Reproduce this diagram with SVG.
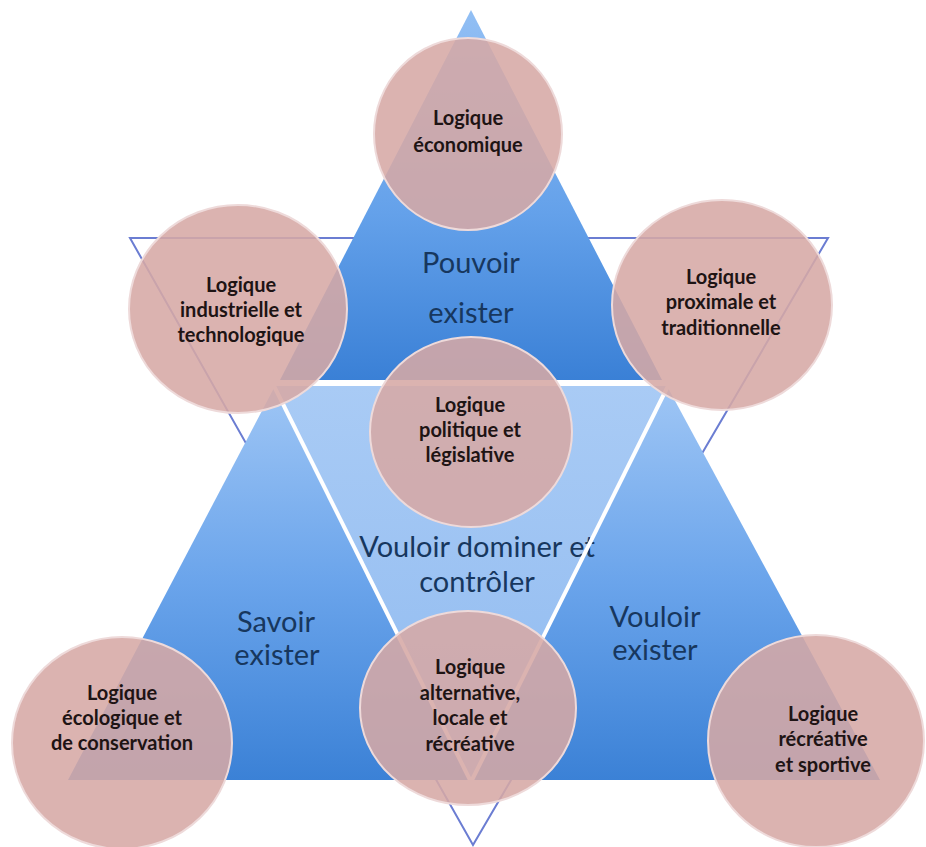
<svg xmlns="http://www.w3.org/2000/svg" width="926" height="847" viewBox="0 0 926 847">
<defs>
<linearGradient id="gTop" gradientUnits="userSpaceOnUse" x1="0" y1="10" x2="0" y2="380">
<stop offset="0" stop-color="#92bff4"/><stop offset="0.55" stop-color="#64a1ea"/><stop offset="1" stop-color="#3a80d6"/>
</linearGradient>
<linearGradient id="gSide" gradientUnits="userSpaceOnUse" x1="0" y1="386" x2="0" y2="780">
<stop offset="0" stop-color="#9fc6f5"/><stop offset="0.5" stop-color="#6aa4eb"/><stop offset="1" stop-color="#3b81d6"/>
</linearGradient>
<linearGradient id="gMid" gradientUnits="userSpaceOnUse" x1="0" y1="386" x2="0" y2="780">
<stop offset="0" stop-color="#a9cbf5"/><stop offset="1" stop-color="#8fbaf0"/>
</linearGradient>
<style>
.circ{fill:#d6a9a5;fill-opacity:0.88;stroke:#eedada;stroke-width:2}
.ct{font-family:Lato,"Liberation Sans",sans-serif;font-weight:bold;font-size:20px;fill:#1e1414;text-anchor:middle}
.big{font-family:Lato,"Liberation Sans",sans-serif;font-size:29px;fill:#17375e;text-anchor:middle}
.sep{stroke:#ffffff;fill:none}
</style>
</defs>
<rect width="926" height="847" fill="#ffffff"/>
<g id="outline-triangle">
<polygon points="130,238 828,238 473,845" fill="none" stroke="#6b7dd2" stroke-width="2"/>
</g>
<g id="pouvoir-exister">
<polygon points="471,10 280,380 662,380" fill="url(#gTop)"/>
<text class="big" x="471" y="273">Pouvoir</text>
<text class="big" x="471" y="323">exister</text>
</g>
<g id="savoir-exister">
<polygon points="275,386 68,780 471,780" fill="url(#gSide)"/>
<text class="big" x="276" y="632">Savoir</text>
<text class="big" x="277" y="665">exister</text>
</g>
<g id="vouloir-exister">
<polygon points="667,386 471,780 880,780" fill="url(#gSide)"/>
<text class="big" x="655" y="627">Vouloir</text>
<text class="big" x="655" y="660">exister</text>
</g>
<g id="vouloir-dominer">
<polygon points="275,386 667,386 471,780" fill="url(#gMid)"/>
<text class="big" x="477" y="557">Vouloir dominer et</text>
<text class="big" x="477" y="592">contrôler</text>
</g>
<g id="connectors">
<line class="sep" x1="268" y1="383" x2="674" y2="383" stroke-width="5"/>
<line class="sep" x1="273" y1="384" x2="471" y2="782" stroke-width="4"/>
<line class="sep" x1="669" y1="384" x2="471" y2="782" stroke-width="4"/>
</g>
<g id="logique-economique">
<ellipse class="circ" cx="468" cy="134" rx="94" ry="96"/>
<text class="ct" x="468" y="125">Logique</text>
<text class="ct" x="468" y="152">économique</text>
</g>
<g id="logique-industrielle">
<ellipse class="circ" cx="238" cy="309" rx="109" ry="104"/>
<text class="ct" x="241" y="292">Logique</text>
<text class="ct" x="241" y="317">industrielle et</text>
<text class="ct" x="241" y="342">technologique</text>
</g>
<g id="logique-proximale">
<ellipse class="circ" cx="722" cy="305" rx="110" ry="105"/>
<text class="ct" x="721" y="284">Logique</text>
<text class="ct" x="721" y="309">proximale et</text>
<text class="ct" x="721" y="335">traditionnelle</text>
</g>
<g id="logique-politique">
<ellipse class="circ" cx="471" cy="432" rx="101" ry="95"/>
<text class="ct" x="470" y="412">Logique</text>
<text class="ct" x="470" y="437">politique et</text>
<text class="ct" x="470" y="462">législative</text>
</g>
<g id="logique-ecologique">
<ellipse class="circ" cx="122" cy="743" rx="110" ry="106"/>
<text class="ct" x="122" y="700">Logique</text>
<text class="ct" x="122" y="725">écologique et</text>
<text class="ct" x="122" y="750">de conservation</text>
</g>
<g id="logique-alternative">
<ellipse class="circ" cx="468" cy="708" rx="108" ry="97"/>
<text class="ct" x="470" y="674">Logique</text>
<text class="ct" x="470" y="700">alternative,</text>
<text class="ct" x="470" y="725">locale et</text>
<text class="ct" x="470" y="751">récréative</text>
</g>
<g id="logique-recreative">
<ellipse class="circ" cx="816" cy="741" rx="108" ry="106"/>
<text class="ct" x="823" y="721">Logique</text>
<text class="ct" x="823" y="746">récréative</text>
<text class="ct" x="823" y="772">et sportive</text>
</g>
</svg>
